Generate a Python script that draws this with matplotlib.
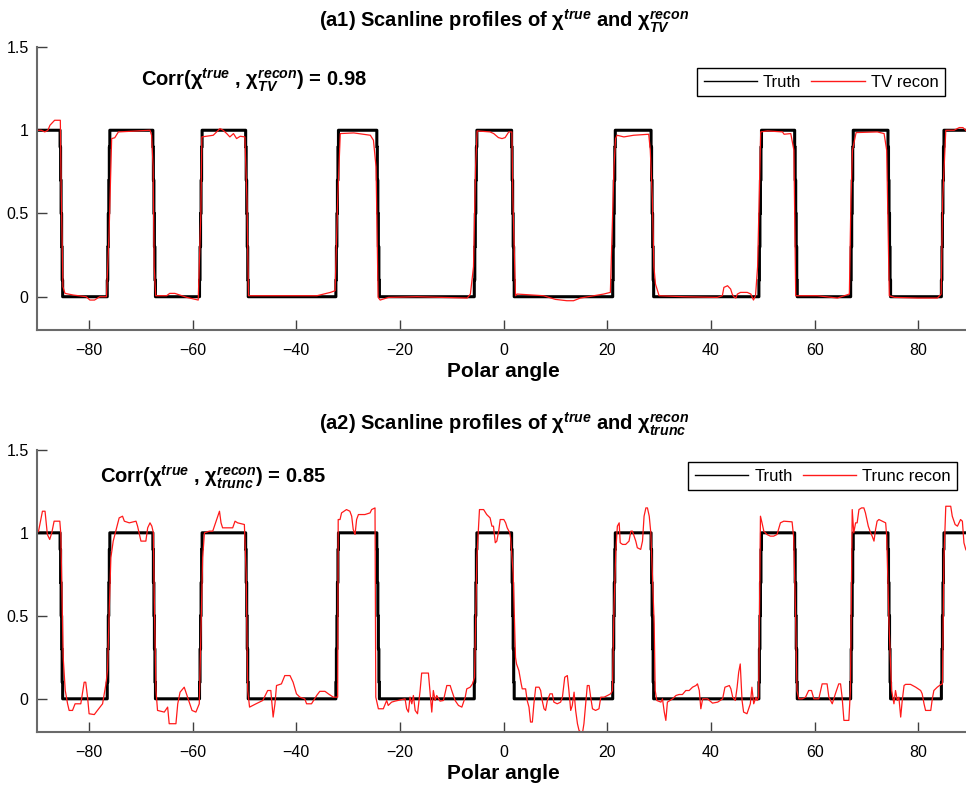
import numpy as np
import matplotlib
matplotlib.use("Agg")
import matplotlib.pyplot as plt

plt.rcParams['font.family'] = ['Liberation Sans', 'DejaVu Sans']
plt.rcParams['mathtext.fontset'] = 'custom'
plt.rcParams['mathtext.rm'] = 'Liberation Sans:bold'
plt.rcParams['mathtext.bf'] = 'Liberation Sans:bold'
plt.rcParams['mathtext.it'] = 'Liberation Sans:bold:italic'
plt.rcParams['mathtext.default'] = 'bf'

# angular intervals where the true profile equals 1
truth_on = [(-90, -85.3), (-76.2, -67.4), (-58.4, -49.5), (-32.1, -24.2), (-5.4, 1.8),
            (21.3, 28.7), (49.5, 56.4), (67.2, 74.4), (84.7, 90)]

# TV reconstruction (angle, value)
tv_recon = [
    (-90.0, 1.00), (-89.2, 1.00), (-88.5, 0.99), (-87.9, 1.00), (-87.5, 1.03), (-86.6, 1.06),
    (-85.5, 1.06), (-85.35, 0.68), (-85.0, 0.06), (-84.6, 0.02), (-83.0, 0.01), (-80.5, 0.00),
    (-79.8, -0.02), (-78.9, -0.02), (-77.9, 0.00), (-76.6, 0.00), (-76.1, 0.38), (-75.6, 0.95),
    (-75.0, 0.955), (-74.3, 0.99), (-68.2, 1.00), (-67.9, 0.97), (-67.6, 0.78), (-67.4, 0.18),
    (-67.1, 0.006), (-65.0, 0.006), (-64.4, 0.02), (-63.4, 0.02), (-61.1, -0.004), (-58.9, -0.02),
    (-58.4, 0.5), (-58.2, 0.96), (-56.0, 0.97), (-54.7, 1.01), (-54.1, 1.00), (-53.4, 0.98),
    (-52.8, 0.96), (-52.1, 0.98), (-51.5, 0.95), (-50.8, 0.964), (-49.9, 0.96), (-49.5, 0.58),
    (-49.2, 0.006), (-42.5, 0.006), (-36.0, 0.006), (-33.4, 0.026), (-32.5, 0.036), (-32.0, 0.58),
    (-31.5, 0.98), (-28.9, 0.984), (-25.7, 0.97), (-25.1, 0.94), (-24.6, 0.78), (-24.2, -0.004),
    (-23.8, -0.02), (-22.2, -0.004), (-16.7, 0.0), (-7.0, -0.008), (-6.4, 0.016), (-5.8, 0.18),
    (-5.4, 0.78), (-5.1, 0.996), (-2.6, 0.99), (-1.9, 0.98), (-1.0, 0.956), (-0.3, 0.95),
    (0.3, 0.956), (1.0, 0.99), (1.6, 0.99), (1.8, 0.58), (2.3, 0.006), (2.6, 0.016),
    (7.7, 0.006), (10.0, -0.016), (12.2, -0.024), (13.5, -0.024), (14.8, -0.008), (17.4, 0.006),
    (19.3, 0.016), (20.6, 0.026), (21.3, 0.78), (21.6, 0.95), (21.9, 0.97), (23.2, 0.96),
    (25.1, 0.97), (28.0, 0.976), (28.3, 0.88), (28.7, 0.58), (29.0, 0.18), (29.3, 0.076),
    (30.0, 0.006), (34.8, 0.0), (41.2, -0.004), (42.2, 0.006), (42.5, 0.056), (43.2, 0.066),
    (43.8, 0.046), (44.1, 0.016), (44.4, 0.0), (44.8, -0.008), (45.1, 0.016), (45.7, 0.026),
    (47.0, 0.026), (47.7, 0.016), (48.2, -0.02), (48.6, 0.006), (49.0, 0.18), (49.3, 0.58),
    (49.6, 0.99), (50.9, 0.996), (53.8, 0.99), (54.1, 0.976), (55.4, 0.98), (56.0, 0.88),
    (56.35, 0.006), (57.0, 0.006), (60.5, 0.006), (64.4, -0.008), (66.7, 0.016), (67.0, 0.58),
    (67.3, 0.88), (68.0, 0.986), (72.1, 0.99), (73.4, 0.98), (73.9, 0.88), (74.4, 0.006),
    (75.4, -0.004), (79.9, -0.008), (83.7, -0.008), (84.4, 0.016), (84.7, 0.58), (85.3, 1.0),
    (86.9, 1.0), (87.9, 1.016), (88.6, 1.016), (89.5, 0.99), (90.0, 1.0),
]

# truncated reconstruction (angle, value)
trunc_recon = [
    (-90.0, 1.00), (-89.7, 1.01), (-88.95, 1.13), (-88.45, 1.13), (-88.0, 0.99), (-87.55, 0.96),
    (-87.15, 1.00), (-86.7, 1.07), (-85.6, 1.07), (-85.4, 0.99), (-85.2, 0.65), (-84.95, 0.25),
    (-84.55, 0.05), (-84.1, -0.03), (-83.8, -0.07), (-83.15, -0.07), (-82.65, -0.03), (-81.55, -0.03),
    (-80.9, 0.10), (-80.6, 0.10), (-80.25, 0.01), (-79.95, -0.09), (-78.95, -0.095), (-78.35, -0.07),
    (-77.35, -0.03), (-76.7, 0.09), (-76.4, 0.17), (-76.05, 0.55), (-75.75, 0.85), (-75.3, 0.95),
    (-74.8, 1.01), (-74.15, 1.09), (-73.5, 1.10), (-73.15, 1.07), (-72.2, 1.06), (-70.9, 1.07),
    (-70.6, 1.04), (-69.95, 0.95), (-69.0, 0.95), (-68.65, 1.03), (-68.2, 1.06), (-67.85, 1.04),
    (-67.55, 1.00), (-67.4, 0.65), (-67.05, 0.05), (-66.75, -0.07), (-65.45, -0.08), (-64.8, -0.05),
    (-64.5, -0.15), (-63.2, -0.15), (-62.85, -0.03), (-62.4, 0.04), (-61.6, 0.07), (-60.95, 0.01),
    (-60.5, -0.03), (-60.1, -0.07), (-59.35, -0.08), (-58.7, -0.03), (-58.35, 0.45), (-58.05, 0.85),
    (-57.7, 1.00), (-56.75, 1.01), (-56.1, 1.01), (-54.8, 1.13), (-54.5, 1.06), (-54.2, 1.03),
    (-52.25, 1.03), (-51.8, 1.07), (-51.3, 1.06), (-50.0, 1.05), (-49.65, 0.75), (-49.35, 0.05),
    (-49.0, -0.05), (-47.75, -0.03), (-46.45, -0.01), (-45.5, 0.05), (-44.9, 0.05), (-44.45, -0.11),
    (-44.1, -0.03), (-43.8, 0.08), (-42.85, 0.09), (-42.2, 0.14), (-41.2, 0.14), (-40.6, 0.10),
    (-39.95, 0.03), (-39.3, 0.01), (-38.35, 0.00), (-38.0, -0.03), (-37.05, -0.03), (-36.05, 0.02),
    (-35.45, 0.045), (-34.45, 0.045), (-33.8, 0.03), (-32.85, 0.01), (-32.0, 0.01), (-31.9, 1.08),
    (-31.55, 1.08), (-31.25, 1.12), (-30.3, 1.14), (-29.65, 1.13), (-29.3, 1.10), (-29.0, 1.02),
    (-28.65, 0.99), (-28.35, 1.08), (-28.0, 1.11), (-26.75, 1.11), (-25.75, 1.12), (-25.45, 1.14),
    (-24.8, 1.15), (-24.65, 0.01), (-24.15, -0.06), (-23.2, -0.06), (-22.55, -0.01), (-22.25, -0.04),
    (-21.6, -0.02), (-20.95, -0.014), (-19.0, 0.00), (-18.7, -0.06), (-18.35, -0.08), (-18.05, 0.01),
    (-17.7, -0.03), (-17.4, 0.02), (-17.05, -0.07), (-16.6, -0.09), (-16.1, 0.05), (-15.8, 0.155),
    (-14.5, 0.155), (-14.2, 0.05), (-13.85, -0.08), (-13.55, 0.05), (-13.2, -0.01), (-12.9, 0.02),
    (-12.25, -0.014), (-11.6, -0.01), (-10.95, 0.08), (-10.3, 0.08), (-10.0, 0.05), (-9.35, -0.01),
    (-8.7, -0.04), (-8.05, -0.05), (-7.4, 0.01), (-7.1, 0.06), (-6.45, 0.07), (-6.0, 0.09),
    (-5.6, 0.13), (-5.15, 0.85), (-4.65, 1.14), (-3.85, 1.14), (-3.25, 1.11), (-2.6, 1.09),
    (-2.25, 1.04), (-1.95, 1.04), (-1.6, 0.94), (-1.3, 0.95), (-0.95, 1.01), (-0.65, 1.08),
    (0.05, 1.08), (0.4, 1.06), (0.7, 1.03), (1.2, 1.00), (1.35, 0.97), (1.85, 0.755),
    (2.3, 0.25), (2.5, 0.21), (2.95, 0.17), (3.4, 0.09), (3.6, 0.06), (4.25, 0.06),
    (4.55, -0.01), (4.9, -0.05), (5.2, -0.14), (5.55, -0.14), (5.85, -0.03), (6.2, 0.07),
    (6.85, 0.07), (7.15, 0.05), (7.45, -0.01), (7.8, -0.06), (8.1, -0.07), (8.45, -0.01),
    (8.95, 0.03), (9.4, 0.03), (9.7, -0.02), (10.35, -0.03), (11.0, -0.02), (11.35, 0.01),
    (11.8, 0.13), (12.3, 0.14), (12.6, 0.05), (12.95, -0.07), (13.25, -0.04), (13.6, 0.04),
    (13.9, -0.07), (14.25, -0.15), (14.55, -0.19), (15.2, -0.21), (15.5, -0.15), (15.85, -0.03),
    (16.15, 0.08), (16.5, 0.08), (16.8, 0.01), (17.15, -0.06), (17.75, -0.07), (18.4, -0.06),
    (18.75, 0.01), (19.4, 0.01), (20.05, 0.02), (20.65, 0.03), (21.0, 0.05), (21.3, 0.55),
    (21.65, 0.89), (21.95, 1.04), (22.3, 1.06), (22.5, 0.94), (22.95, 0.93), (23.55, 0.93),
    (24.2, 0.95), (24.55, 1.01), (24.85, 1.01), (25.5, 0.95), (25.8, 0.91), (26.45, 0.90),
    (26.8, 0.95), (27.1, 1.10), (27.45, 1.15), (27.75, 1.15), (28.1, 1.10), (28.4, 1.00),
    (28.7, 0.755), (29.05, 0.45), (29.25, 0.05), (29.55, -0.01), (30.35, -0.02), (30.65, 0.00),
    (31.0, -0.08), (31.3, -0.13), (31.6, -0.02), (32.6, 0.00), (33.25, 0.02), (33.85, 0.026),
    (34.5, 0.026), (35.15, 0.05), (35.8, 0.05), (36.45, 0.07), (37.1, 0.08), (37.4, 0.09),
    (37.75, 0.05), (38.05, -0.06), (38.4, 0.00), (39.35, 0.00), (40.3, -0.026), (41.3, -0.02),
    (42.25, 0.00), (42.7, 0.07), (43.55, 0.08), (43.85, 0.06), (44.2, 0.01), (44.7, -0.01),
    (45.05, 0.07), (45.35, 0.16), (45.65, 0.21), (46.0, -0.01), (46.3, -0.08), (46.95, -0.09),
    (47.6, -0.03), (47.9, 0.07), (48.25, -0.03), (48.7, 0.01), (48.9, -0.01), (49.2, 0.01),
    (49.55, 1.10), (49.85, 1.06), (50.2, 1.01), (50.8, 0.99), (51.45, 0.98), (52.1, 0.98),
    (52.75, 0.99), (53.4, 1.06), (54.05, 1.07), (55.65, 1.066), (55.95, 0.975), (56.3, 0.55),
    (56.6, 0.05), (56.95, 0.00), (57.6, 0.00), (58.25, 0.01), (58.85, 0.05), (59.4, 0.05),
    (59.85, 0.00), (60.8, 0.00), (61.45, 0.09), (62.4, 0.09), (62.75, 0.01), (63.4, -0.03),
    (64.0, 0.03), (64.65, 0.09), (65.0, 0.09), (65.3, 0.01), (65.65, -0.13), (66.6, -0.13),
    (66.9, 0.05), (67.25, 1.14), (67.55, 1.00), (67.9, 1.06), (68.2, 1.06), (68.55, 1.14),
    (69.05, 1.15), (69.5, 1.15), (69.8, 1.12), (70.35, 1.04), (70.8, 1.00), (71.1, 0.98),
    (71.45, 0.95), (71.75, 1.02), (72.05, 1.07), (72.4, 1.08), (73.05, 1.07), (73.7, 1.06),
    (73.9, 0.98), (74.35, 0.45), (74.85, 0.05), (75.3, -0.03), (75.6, 0.05), (75.95, -0.01),
    (76.25, 0.01), (76.6, -0.11), (76.9, -0.01), (77.25, 0.08), (77.55, 0.087), (78.5, 0.087),
    (79.5, 0.07), (80.45, 0.05), (80.75, 0.03), (81.1, -0.03), (81.4, -0.07), (82.4, -0.07),
    (82.7, 0.00), (83.0, 0.05), (83.65, 0.07), (84.3, 0.085), (84.65, 0.09), (84.95, 0.85),
    (85.3, 1.16), (86.25, 1.16), (86.55, 1.10), (87.1, 1.05), (87.55, 1.04), (87.85, 1.06),
    (88.15, 1.08), (88.5, 1.07), (88.8, 0.94), (89.15, 0.90), (89.45, 0.885), (90.0, 0.87),
]

corr_values = [0.98, 0.85]
recon_names = ['TV recon', 'Trunc recon']
recon_subs = ['TV', 'trunc']
panel_tags = ['(a1)', '(a2)']
xticks = [-80, -60, -40, -20, 0, 20, 40, 60, 80]
yticks = [0, 0.5, 1, 1.5]


def truth_profile(intervals, step=0.1, width=0.5):
    # sampled true profile with partial-volume values at the edges
    ang = np.arange(-90, 90 + step / 2, step)
    val = np.zeros_like(ang)
    for a0, a1 in intervals:
        a0 = -np.inf if a0 <= -90 else a0
        a1 = np.inf if a1 >= 90 else a1
        lo = np.maximum(ang - width / 2, a0)
        hi = np.minimum(ang + width / 2, a1)
        val += np.clip(hi - lo, 0, None) / width
    return ang, np.clip(val, 0, 1)


truth_ang, truth_val = truth_profile(truth_on)

fig = plt.figure(figsize=(9.66, 7.85), dpi=100)
axes = [fig.add_axes([0.0383, 0.5796, 0.966, 0.3605]),
        fig.add_axes([0.0383, 0.0675, 0.966, 0.3595])]
corr_pos = [(-70.0, 1.30), (-77.8, 1.335)]
leg_anchor = [(0.973, 0.926), (0.986, 0.957)]

for i, (ax, recon) in enumerate(zip(axes, [tv_recon, trunc_recon])):
    r = np.array(recon)
    ax.plot(truth_ang, truth_val, color='black', lw=2.2, drawstyle='steps-mid', label='Truth')
    ax.plot(r[:, 0], r[:, 1], color='#ff1a1a', lw=0.9, label=recon_names[i])
    ax.set_xlim(-90, 90)
    ax.set_ylim(-0.2, 1.5)
    ax.set_xticks(xticks)
    ax.set_yticks(yticks)
    ax.set_yticklabels(['0', '0.5', '1', '1.5'])
    for s in ['top', 'right']:
        ax.spines[s].set_visible(False)
    for s in ['left', 'bottom']:
        ax.spines[s].set_color('#6a6a6a')
        ax.spines[s].set_linewidth(1.5)
    ax.tick_params(direction='in', length=7, width=1.0, color='#404040', labelsize=11.5)
    ax.tick_params(axis='x', pad=9)
    ax.tick_params(axis='y', pad=6)
    ax.set_xlabel('Polar angle', fontsize=15, fontweight='bold', labelpad=3)
    sub = recon_subs[i]
    ax.set_title(panel_tags[i] + r' Scanline profiles of $χ^{\mathit{true}}$ and $χ^{\mathit{recon}}_{\mathit{' + sub + '}}$',
                 fontsize=14.5, fontweight='bold', pad=14)
    ax.text(corr_pos[i][0], corr_pos[i][1],
            r'Corr($χ^{\mathit{true}}$ , $χ^{\mathit{recon}}_{\mathit{' + sub + r'}}$) = ' + f'{corr_values[i]:.2f}',
            fontsize=14.5, fontweight='bold', va='center')
    leg = ax.legend(loc='upper right', bbox_to_anchor=leg_anchor[i], ncol=2, fontsize=12,
                    frameon=True, fancybox=False, edgecolor='black', framealpha=1,
                    handlelength=3.2, handletextpad=0.35, columnspacing=0.6,
                    borderpad=0.4, borderaxespad=0)
    leg.get_frame().set_linewidth(1.0)
    for h in leg.get_lines():
        h.set_linewidth(1.0)

fig.savefig('out.png', dpi=100)
